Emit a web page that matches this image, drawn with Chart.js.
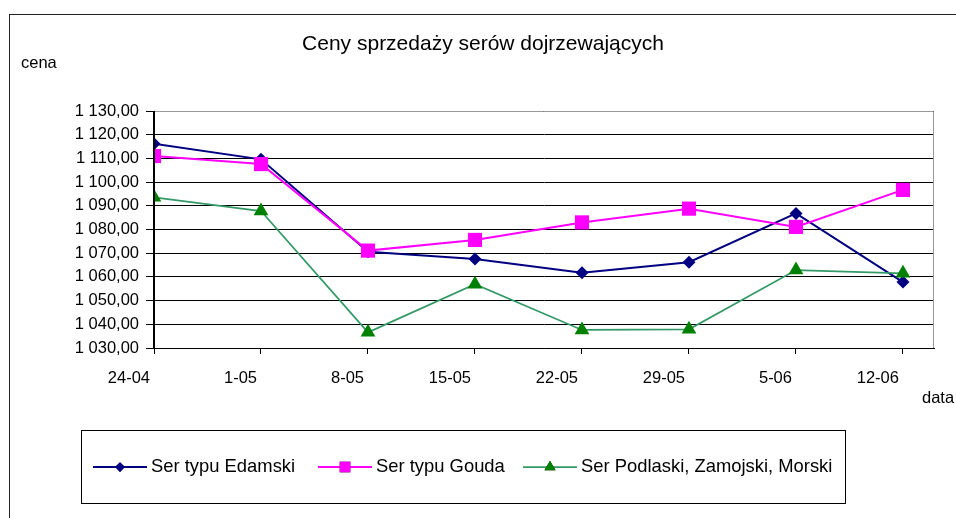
<!DOCTYPE html>
<html>
<head>
<meta charset="utf-8">
<script src="https://cdn.jsdelivr.net/npm/chart.js@4"></script>
<style>
    html, body { margin: 0; padding: 0; background: #fff; }
    #wrap { width: 956px; height: 518px; }
</style>
</head>
<body>
<div id="wrap"><canvas id="cheese-chart" width="956" height="518"></canvas></div>
<script>
(function () {
    "use strict";

    // Data
    const dates = ["24-04", "1-05", "8-05", "15-05", "22-05", "29-05", "5-06", "12-06"];
    const edamski = [1116.2, 1109.6, 1070.6, 1067.6, 1061.8, 1066.2, 1086.8, 1057.8];
    const gouda = [1111.0, 1107.6, 1071.1, 1075.6, 1083.0, 1088.8, 1081.1, 1096.7];
    const podlaski = [1093.6, 1087.8, 1036.6, 1056.9, 1037.6, 1037.9, 1062.9, 1061.5];
    const seriesNames = ["Ser typu Edamski", "Ser typu Gouda", "Ser Podlaski, Zamojski, Morski"];
    const yTicks = [1030, 1040, 1050, 1060, 1070, 1080, 1090, 1100, 1110, 1120, 1130];

    const FONT = "'Liberation Sans', Arial, sans-serif";
    const toPoints = (arr) => arr.map((v, i) => ({ x: i, y: v }));
    const fmt = (v) => Math.floor(v / 1000) + " " + String(Math.round(v % 1000)).padStart(3, "0") + ",00";

    const series = [
        { values: edamski, line: "#000080", fill: "#000080", style: "rectRot", radius: 6.5, width: 2 },
        { values: gouda, line: "#ff00ff", fill: "#ff00ff", style: "rect", radius: 10, width: 2 },
        { values: podlaski, line: "#339966", fill: "#008000", style: "triangle", radius: 8.5, width: 1.75 },
    ];

    // frame, title, axis names and legend
    const decor = {
        id: "decor",
        beforeDraw(chart) {
            const ctx = chart.ctx;
            ctx.save();
            ctx.fillStyle = "#fff";
            ctx.fillRect(0, 0, chart.width, chart.height);
            ctx.strokeStyle = "#222";
            ctx.lineWidth = 1;
            ctx.strokeRect(9.5, 14.5, 980, 560);
            ctx.restore();
        },
        afterDraw(chart) {
            const ctx = chart.ctx;
            const a = chart.chartArea;
            ctx.save();
            // plot border top/right
            ctx.strokeStyle = "#999";
            ctx.lineWidth = 1;
            ctx.beginPath();
            ctx.moveTo(a.left, Math.round(a.top) + 0.5);
            ctx.lineTo(Math.round(a.right) - 0.5, Math.round(a.top) + 0.5);
            ctx.lineTo(Math.round(a.right) - 0.5, a.bottom);
            ctx.stroke();
            // left axis a bit heavier
            ctx.strokeStyle = "#000";
            ctx.lineWidth = 2;
            ctx.beginPath();
            ctx.moveTo(a.left, a.top);
            ctx.lineTo(a.left, a.bottom);
            ctx.stroke();

            ctx.fillStyle = "#000";
            ctx.textBaseline = "middle";
            ctx.textAlign = "center";
            ctx.font = "21px " + FONT;
            ctx.fillText("Ceny sprzedaży serów dojrzewających", 483, 44);
            ctx.textAlign = "left";
            ctx.font = "16.5px " + FONT;
            ctx.fillText("cena", 21, 63);
            ctx.fillText("data", 922, 398);

            // legend
            ctx.strokeStyle = "#000";
            ctx.lineWidth = 1;
            ctx.strokeRect(81.5, 430.5, 764, 73);
            const starts = [93, 318, 523];
            chart.data.datasets.forEach((ds, i) => {
                const x = starts[i];
                const y = 467;
                ctx.strokeStyle = ds.borderColor;
                ctx.lineWidth = ds.borderWidth;
                ctx.beginPath();
                ctx.moveTo(x, y);
                ctx.lineTo(x + 54, y);
                ctx.stroke();
                Chart.helpers.drawPoint(ctx, {
                    pointStyle: ds.pointStyle,
                    radius: ds.pointRadius * 0.75,
                    borderWidth: 0,
                    rotation: 0,
                }, x + 27, y);
                ctx.fillStyle = ds.pointBackgroundColor;
                ctx.fill();
                ctx.fillStyle = "#000";
                ctx.font = "18.4px " + FONT;
                ctx.fillText(ds.label, x + 58, y);
            });
            ctx.restore();
        },
    };

    const chart = new Chart(document.getElementById("cheese-chart"), {
        type: "line",
        data: {
            datasets: series.map((s, i) => ({
                label: seriesNames[i],
                data: toPoints(s.values),
                borderColor: s.line,
                borderWidth: s.width,
                backgroundColor: s.fill,
                pointBackgroundColor: s.fill,
                pointBorderColor: s.fill,
                pointBorderWidth: 0,
                pointStyle: s.style,
                pointRadius: s.radius,
                pointHoverRadius: s.radius,
                tension: 0,
                order: 3 - i,
            })),
        },
        options: {
            responsive: false,
            animation: false,
            events: [],
            layout: { padding: { top: 111, right: 22, left: 0, bottom: 0 } },
            plugins: {
                legend: { display: false },
                title: { display: false },
                tooltip: { enabled: false },
            },
            scales: {
                x: {
                    type: "linear",
                    min: 0,
                    max: 7.29,
                    afterBuildTicks: (scale) => {
                        scale.ticks = dates.map((d, i) => ({ value: i }));
                    },
                    afterFit: (scale) => { scale.height = 170; },
                    grid: { drawOnChartArea: false, drawTicks: true, tickLength: 6, color: "#000" },
                    border: { color: "#000", width: 1 },
                    ticks: {
                        autoSkip: false,
                        maxRotation: 0,
                        align: "end",
                        labelOffset: -4,
                        padding: 15,
                        color: "#000",
                        font: { family: FONT, size: 16.5 },
                        callback: (v) => dates[v],
                    },
                },
                y: {
                    min: yTicks[0],
                    max: yTicks[yTicks.length - 1],
                    afterBuildTicks: (scale) => {
                        scale.ticks = yTicks.map((v) => ({ value: v }));
                    },
                    afterFit: (scale) => { scale.width = 154; },
                    grid: { color: "#000", tickLength: 8, lineWidth: 1 },
                    border: { color: "#000", width: 1 },
                    ticks: {
                        padding: 7,
                        color: "#000",
                        font: { family: FONT, size: 16.5 },
                        callback: (v) => fmt(v),
                    },
                },
            },
        },
        plugins: [decor],
    });
})();
</script>
</body>
</html>
